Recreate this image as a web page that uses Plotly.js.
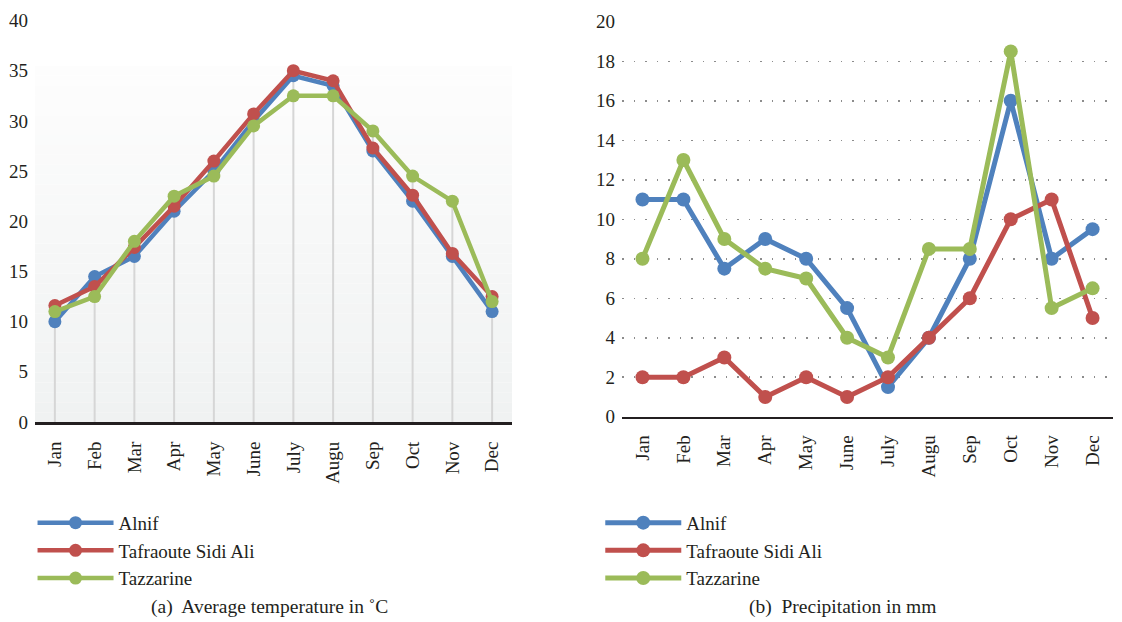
<!DOCTYPE html>
<html><head><meta charset="utf-8">
<script src="https://cdn.plot.ly/plotly-3.0.1.min.js"></script>
<style>html,body{margin:0;padding:0;background:#fff}#chart{width:1122px;height:622px}</style>
</head><body><div id="chart"></div>
<script>
const months = ["Jan","Feb","Mar","Apr","May","June","July","Augu","Sep","Oct","Nov","Dec"];
const seriesNames = ["Alnif","Tafraoute Sidi Ali","Tazzarine"];
const tempAlnif = [10, 14.5, 16.5, 21, 25, 30, 34.5, 33.5, 27, 22, 16.5, 11];
const tempTafraoute = [11.6, 13.5, 17.4, 21.5, 26, 30.7, 35, 34, 27.3, 22.6, 16.8, 12.5];
const tempTazzarine = [11, 12.5, 18, 22.5, 24.5, 29.5, 32.5, 32.5, 29, 24.5, 22, 12];
const precAlnif = [11, 11, 7.5, 9, 8, 5.5, 1.5, 4, 8, 16, 8, 9.5];
const precTafraoute = [2, 2, 3, 1, 2, 1, 2, 4, 6, 10, 11, 5];
const precTazzarine = [8, 13, 9, 7.5, 7, 4, 3, 8.5, 8.5, 18.5, 5.5, 6.5];
const yTicksTemp = [0,5,10,15,20,25,30,35,40];
const yTicksPrec = [0,2,4,6,8,10,12,14,16,18,20];

const colors = ["#4f81bd","#c0504d","#9bbb59"];
const FONT = "'Liberation Serif', 'DejaVu Serif', serif";

const tempSets = [tempAlnif, tempTafraoute, tempTazzarine];
const precSets = [precAlnif, precTafraoute, precTazzarine];
const dropTop = months.map((m,i)=>Math.max(...tempSets.map(s=>s[i])));

const traces = [];
traces.push({x: months, y: dropTop, xaxis:'x', yaxis:'y', mode:'markers', showlegend:false, hoverinfo:'skip',
  marker:{size:1, color:'rgba(0,0,0,0)'},
  error_y:{type:'data', symmetric:false, array: dropTop.map(()=>0), arrayminus: dropTop, color:'#d6d6d6', thickness:2, width:0}});
tempSets.forEach((s,k)=>traces.push({x: months, y: s, xaxis:'x', yaxis:'y', name: seriesNames[k], legend:'legend',
  mode:'lines+markers', line:{color:colors[k], width:4.5}, marker:{color:colors[k], size:13}}));
precSets.forEach((s,k)=>traces.push({x: months, y: s, xaxis:'x2', yaxis:'y2', name: seriesNames[k], legend:'legend2',
  mode:'lines+markers', line:{color:colors[k], width:5}, marker:{color:colors[k], size:14}}));

const shapes = [];
const nBands = 36, bandTop = 35.5;
for (let i=0;i<nBands;i++){
  const y0 = bandTop*i/nBands, y1 = bandTop*(i+1)/nBands;
  const t = i/(nBands-1);
  const c0 = [240,242,242], c1 = [253,253,253];
  const c = c0.map((v,j)=>Math.round(v + (c1[j]-v)*t));
  shapes.push({type:'rect', xref:'x domain', yref:'y', x0:0, x1:1, y0:y0, y1:y1, fillcolor:`rgb(${c.join(',')})`, line:{width:0}, layer:'below'});
}

const axisFont = {family: FONT, size: 19, color:'#231f20'};
const legendFont = {family: FONT, size: 19, color:'#231f20'};
const layout = {
  width:1122, height:622, margin:{l:0,r:0,t:0,b:0},
  paper_bgcolor:'#fff', plot_bgcolor:'rgba(0,0,0,0)',
  showlegend:true,
  font:{family: FONT, color:'#231f20'},
  xaxis:{domain:[0.0312,0.4563], anchor:'y', type:'category', range:[-0.5,11.5], tickangle:-90,
    showline:true, linecolor:'#231f20', linewidth:3, showgrid:false, zeroline:false, ticks:'', tickfont:axisFont, ticklabelstandoff:9},
  yaxis:{domain:[0.3215,0.967], anchor:'x', range:[0,40], tickvals:yTicksTemp, showgrid:false, zeroline:false, showline:false,
    ticks:'', tickfont:axisFont, ticklabelstandoff:6},
  xaxis2:{domain:[0.5544,0.992], anchor:'y2', type:'category', range:[-0.5,11.5], tickangle:-90,
    showline:true, linecolor:'#231f20', linewidth:2, showgrid:false, zeroline:false, ticks:'', tickfont:axisFont, ticklabelstandoff:9},
  yaxis2:{domain:[0.330,0.965], anchor:'x2', range:[0,20], tickvals:yTicksPrec, showgrid:true, gridcolor:'#8c8c8c', gridwidth:1.5,
    griddash:'1.5px,10px', zeroline:false, showline:false, ticks:'', tickfont:axisFont, ticklabelstandoff:6},
  legend:{x:0.029, y:0.19, xanchor:'left', yanchor:'top', bgcolor:'rgba(0,0,0,0)', font:legendFont,
    itemwidth:76, tracegroupgap:0, itemclick:false},
  legend2:{x:0.535, y:0.19, xanchor:'left', yanchor:'top', bgcolor:'rgba(0,0,0,0)', font:legendFont,
    itemwidth:76, tracegroupgap:0, itemclick:false},
  shapes: shapes,
  annotations:[
    {text:'(a)  Average temperature in ˚C', xref:'paper', yref:'paper', x:0.2406, y:0.024, xanchor:'center', yanchor:'middle', showarrow:false, font:{family:FONT,size:19.5,color:'#231f20'}},
    {text:'(b)  Precipitation in mm', xref:'paper', yref:'paper', x:0.751, y:0.024, xanchor:'center', yanchor:'middle', showarrow:false, font:{family:FONT,size:19.5,color:'#231f20'}}
  ]
};
Plotly.newPlot('chart', traces, layout, {displayModeBar:false, staticPlot:true});
</script></body></html>
